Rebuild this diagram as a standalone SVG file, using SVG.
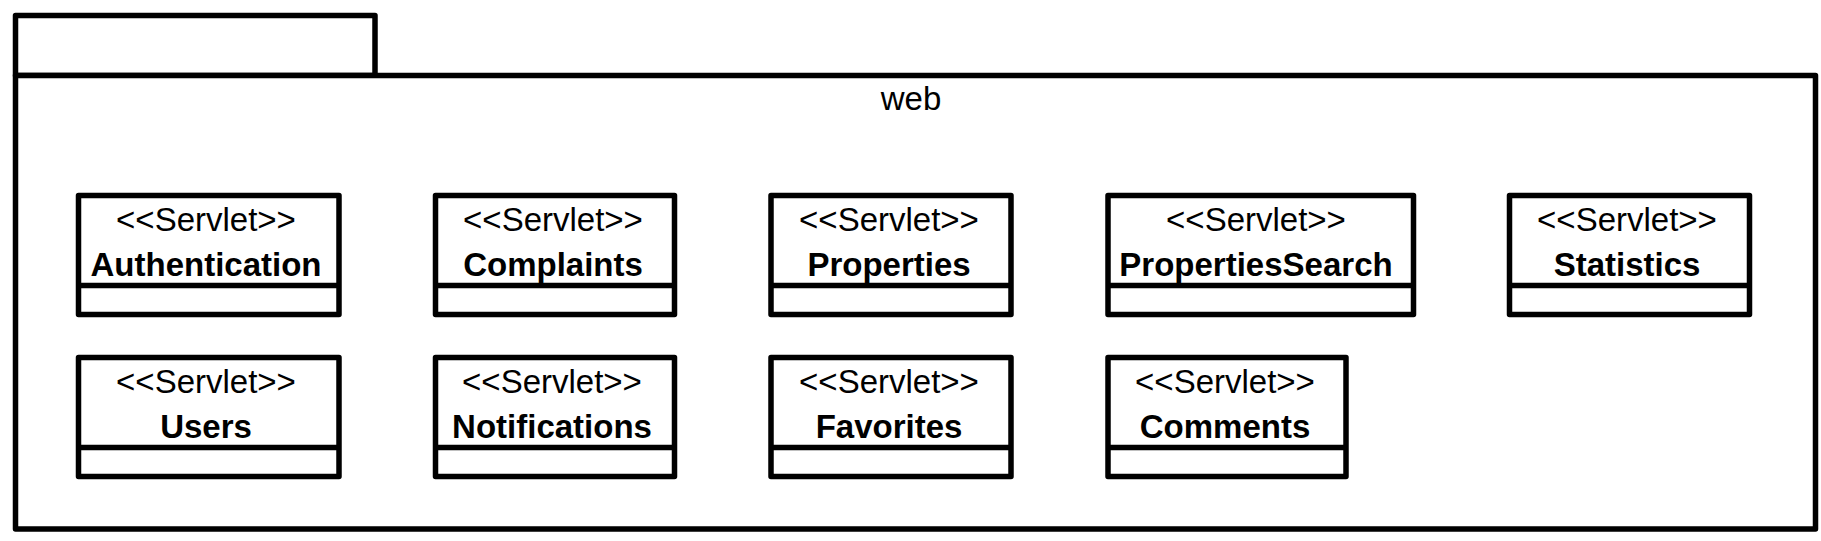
<svg xmlns="http://www.w3.org/2000/svg" width="1821" height="541" viewBox="0 0 1821 541">
<style>
.ln{fill:#fff;stroke:#000;stroke-width:5.5;stroke-linejoin:round}
.dv{stroke:#000;stroke-width:5.5}
.st{font-family:"Liberation Sans",Arial,sans-serif;font-size:33px;text-anchor:middle;fill:#000}
.nm{font-family:"Liberation Sans",Arial,sans-serif;font-size:33px;font-weight:bold;text-anchor:middle;fill:#000}
</style>
<rect x="0" y="0" width="1821" height="541" fill="#fff"/>
<g id="package-web">
<rect class="ln" x="15.5" y="15.5" width="359.5" height="60"/>
<rect class="ln" x="15.5" y="75.5" width="1800" height="453.5"/>
<text class="st" x="911" y="110">web</text>
</g>
<g id="connectors"></g>
<g id="Authentication">
<rect class="ln" x="78.5" y="195.5" width="260.5" height="119"/>
<line class="dv" x1="78.5" y1="285.5" x2="339" y2="285.5"/>
<text class="st" x="206" y="231">&lt;&lt;Servlet&gt;&gt;</text>
<text class="nm" x="206" y="276">Authentication</text>
</g>
<g id="Complaints">
<rect class="ln" x="435.5" y="195.5" width="239" height="119"/>
<line class="dv" x1="435.5" y1="285.5" x2="674.5" y2="285.5"/>
<text class="st" x="553" y="231">&lt;&lt;Servlet&gt;&gt;</text>
<text class="nm" x="553" y="276">Complaints</text>
</g>
<g id="Properties">
<rect class="ln" x="771" y="195.5" width="240" height="119"/>
<line class="dv" x1="771" y1="285.5" x2="1011" y2="285.5"/>
<text class="st" x="889" y="231">&lt;&lt;Servlet&gt;&gt;</text>
<text class="nm" x="889" y="276">Properties</text>
</g>
<g id="PropertiesSearch">
<rect class="ln" x="1108" y="195.5" width="305.5" height="119"/>
<line class="dv" x1="1108" y1="285.5" x2="1413.5" y2="285.5"/>
<text class="st" x="1256" y="231">&lt;&lt;Servlet&gt;&gt;</text>
<text class="nm" x="1256" y="276">PropertiesSearch</text>
</g>
<g id="Statistics">
<rect class="ln" x="1509.5" y="195.5" width="240" height="119"/>
<line class="dv" x1="1509.5" y1="285.5" x2="1749.5" y2="285.5"/>
<text class="st" x="1627" y="231">&lt;&lt;Servlet&gt;&gt;</text>
<text class="nm" x="1627" y="276">Statistics</text>
</g>
<g id="Users">
<rect class="ln" x="78.5" y="357.5" width="260.5" height="119"/>
<line class="dv" x1="78.5" y1="447.5" x2="339" y2="447.5"/>
<text class="st" x="206" y="393">&lt;&lt;Servlet&gt;&gt;</text>
<text class="nm" x="206" y="438">Users</text>
</g>
<g id="Notifications">
<rect class="ln" x="435.5" y="357.5" width="239" height="119"/>
<line class="dv" x1="435.5" y1="447.5" x2="674.5" y2="447.5"/>
<text class="st" x="552" y="393">&lt;&lt;Servlet&gt;&gt;</text>
<text class="nm" x="552" y="438">Notifications</text>
</g>
<g id="Favorites">
<rect class="ln" x="771" y="357.5" width="240" height="119"/>
<line class="dv" x1="771" y1="447.5" x2="1011" y2="447.5"/>
<text class="st" x="889" y="393">&lt;&lt;Servlet&gt;&gt;</text>
<text class="nm" x="889" y="438">Favorites</text>
</g>
<g id="Comments">
<rect class="ln" x="1108" y="357.5" width="238" height="119"/>
<line class="dv" x1="1108" y1="447.5" x2="1346" y2="447.5"/>
<text class="st" x="1225" y="393">&lt;&lt;Servlet&gt;&gt;</text>
<text class="nm" x="1225" y="438">Comments</text>
</g>
</svg>
